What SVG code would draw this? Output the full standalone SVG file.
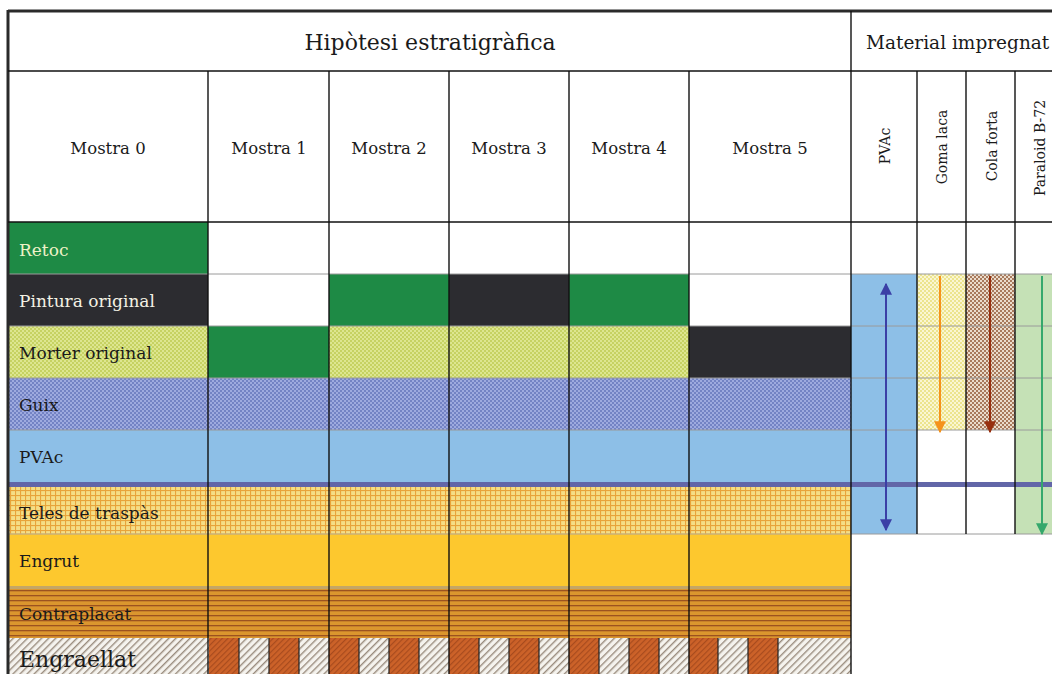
<svg xmlns="http://www.w3.org/2000/svg" width="1052" height="674" viewBox="0 0 1052 674">
<style>
.t{font-family:"DejaVu Serif","Liberation Serif",serif;fill:#1a1a1a}
.lab{font-size:17px}
.hd{font-size:16.5px;text-anchor:middle}
.rot{font-size:14px;text-anchor:middle}
.grid{stroke:#111;stroke-width:1.4}
.thin{stroke:#9a9a9a;stroke-width:1}
.arrow{stroke-width:2;fill:none}
</style>
<defs>
<pattern id="pMorter" width="4" height="4" patternUnits="userSpaceOnUse">
<rect width="4" height="4" fill="#c6d262"/><rect width="2" height="2" fill="#dde690"/><rect x="2" y="2" width="2" height="2" fill="#dde690"/>
</pattern>
<pattern id="pGuix" width="4" height="4" patternUnits="userSpaceOnUse">
<rect width="4" height="4" fill="#7383c4"/><rect width="2" height="2" fill="#9eaadf"/><rect x="2" y="2" width="2" height="2" fill="#9eaadf"/>
</pattern>
<pattern id="pTeles" width="5" height="5" patternUnits="userSpaceOnUse">
<rect width="5" height="5" fill="#f5de86"/><rect width="1.1" height="5" fill="#e8a43a"/><rect width="5" height="1.1" fill="#e8a43a"/>
</pattern>
<pattern id="pContra" width="5" height="5" patternUnits="userSpaceOnUse">
<rect width="5" height="5" fill="#db962e"/><rect width="5" height="1.3" fill="#9c5220"/>
</pattern>
<pattern id="pHatch" width="5" height="5" patternUnits="userSpaceOnUse" patternTransform="rotate(45)">
<rect width="5" height="5" fill="#f5f3ee"/><rect width="1.4" height="5" fill="#9a8c7e"/>
</pattern>
<pattern id="pOrange" width="4" height="4" patternUnits="userSpaceOnUse" patternTransform="rotate(45)">
<rect width="4" height="4" fill="#cc6229"/><rect width="1.2" height="4" fill="#a84b1e"/>
</pattern>
<pattern id="pGoma" width="4" height="4" patternUnits="userSpaceOnUse">
<rect width="4" height="4" fill="#ece48e"/><rect width="2" height="2" fill="#faf6d2"/><rect x="2" y="2" width="2" height="2" fill="#faf6d2"/>
</pattern>
<pattern id="pCola" width="4" height="4" patternUnits="userSpaceOnUse">
<rect width="4" height="4" fill="#a87a5c"/><rect width="2" height="2" fill="#eadccc"/><rect x="2" y="2" width="2" height="2" fill="#eadccc"/>
</pattern>
<marker id="mBlue" viewBox="0 0 10 10" refX="9" refY="5" markerWidth="6" markerHeight="6" orient="auto-start-reverse"><path d="M0,0L10,5L0,10z" fill="#3b3fa6"/></marker>
<marker id="mOrange" viewBox="0 0 10 10" refX="9" refY="5" markerWidth="6" markerHeight="6" orient="auto"><path d="M0,0L10,5L0,10z" fill="#f5931c"/></marker>
<marker id="mBrown" viewBox="0 0 10 10" refX="9" refY="5" markerWidth="6" markerHeight="6" orient="auto"><path d="M0,0L10,5L0,10z" fill="#97300f"/></marker>
<marker id="mGreen" viewBox="0 0 10 10" refX="9" refY="5" markerWidth="6" markerHeight="6" orient="auto"><path d="M0,0L10,5L0,10z" fill="#35a86c"/></marker>
</defs>
<rect width="1052" height="674" fill="#fff"/>

<g id="row-retoc">
<rect x="8" y="222" width="200" height="52" fill="#1e8a45"/>
<text class="t lab" x="19" y="256" style="fill:#eef2c8">Retoc</text>
</g>
<g id="row-pintura">
<rect x="8" y="274" width="200" height="52" fill="#2c2c30"/>
<rect x="329" y="274" width="120" height="52" fill="#1e8a45"/>
<rect x="449" y="274" width="120" height="52" fill="#2c2c30"/>
<rect x="569" y="274" width="120" height="52" fill="#1e8a45"/>
<text class="t lab" x="19" y="307" style="fill:#f4f2e4">Pintura original</text>
</g>
<g id="row-morter">
<rect x="8" y="326" width="200" height="52" fill="url(#pMorter)"/>
<rect x="208" y="326" width="121" height="52" fill="#1e8a45"/>
<rect x="329" y="326" width="360" height="52" fill="url(#pMorter)"/>
<rect x="689" y="326" width="162" height="52" fill="#2c2c30"/>
<text class="t lab" x="19" y="359">Morter original</text>
</g>
<g id="row-guix">
<rect x="8" y="378" width="843" height="52" fill="url(#pGuix)"/>
<text class="t lab" x="19" y="411">Guix</text>
</g>
<g id="row-pvac">
<rect x="8" y="430" width="843" height="52" fill="#8dbfe7"/>
<text class="t lab" x="19" y="463">PVAc</text>
</g>
<g id="row-teles">
<rect x="8" y="487" width="843" height="47" fill="url(#pTeles)"/>
<text class="t lab" x="19" y="519">Teles de traspàs</text>
</g>
<g id="row-engrut">
<rect x="8" y="534" width="843" height="52" fill="#fdc82e"/>
<line x1="8" y1="534" x2="851" y2="534" stroke="#c8b078" stroke-width="1.5"/>
<text class="t lab" x="19" y="567">Engrut</text>
</g>
<g id="row-contraplacat">
<rect x="8" y="586" width="843" height="52" fill="url(#pContra)"/>
<rect x="8" y="586" width="843" height="3" fill="#c4a666"/>
<text class="t lab" x="19" y="620">Contraplacat</text>
</g>
<g id="row-engraellat">
<rect x="8" y="638" width="843" height="36" fill="url(#pHatch)"/>
<rect x="209" y="638" width="30" height="36" fill="url(#pOrange)"/>
<rect x="269" y="638" width="30" height="36" fill="url(#pOrange)"/>
<rect x="329" y="638" width="30" height="36" fill="url(#pOrange)"/>
<rect x="389" y="638" width="30" height="36" fill="url(#pOrange)"/>
<rect x="449" y="638" width="30" height="36" fill="url(#pOrange)"/>
<rect x="509" y="638" width="30" height="36" fill="url(#pOrange)"/>
<rect x="569" y="638" width="30" height="36" fill="url(#pOrange)"/>
<rect x="629" y="638" width="30" height="36" fill="url(#pOrange)"/>
<rect x="689" y="638" width="29" height="36" fill="url(#pOrange)"/>
<rect x="748" y="638" width="30" height="36" fill="url(#pOrange)"/>
<g stroke="#222" stroke-width="1.2">
<line x1="239" y1="638" x2="239" y2="674"/><line x1="269" y1="638" x2="269" y2="674"/><line x1="299" y1="638" x2="299" y2="674"/>
<line x1="359" y1="638" x2="359" y2="674"/><line x1="389" y1="638" x2="389" y2="674"/><line x1="419" y1="638" x2="419" y2="674"/>
<line x1="479" y1="638" x2="479" y2="674"/><line x1="509" y1="638" x2="509" y2="674"/><line x1="539" y1="638" x2="539" y2="674"/>
<line x1="599" y1="638" x2="599" y2="674"/><line x1="629" y1="638" x2="629" y2="674"/><line x1="659" y1="638" x2="659" y2="674"/>
<line x1="718" y1="638" x2="718" y2="674"/><line x1="748" y1="638" x2="748" y2="674"/><line x1="778" y1="638" x2="778" y2="674"/>
</g>
<text class="t" x="19" y="667" font-size="22">Engraellat</text>
</g>

<g id="material-columns">
<rect x="851" y="274" width="66" height="260" fill="#8dbfe7"/>
<rect x="917" y="274" width="49" height="156" fill="url(#pGoma)"/>
<rect x="966" y="274" width="49" height="156" fill="url(#pCola)"/>
<rect x="1015" y="274" width="37" height="260" fill="#c5e1b6"/>
</g>

<g id="row-lines">
<g class="thin">
<line x1="8" y1="274" x2="1052" y2="274"/>
<line x1="8" y1="326" x2="1052" y2="326"/>
<line x1="8" y1="378" x2="1052" y2="378"/>
<line x1="8" y1="430" x2="1052" y2="430"/>
<line x1="851" y1="534" x2="1052" y2="534"/>
</g>
<rect x="8" y="482" width="1044" height="5" fill="#6266a8"/>
</g>

<g id="grid">
<line x1="8" y1="11" x2="1052" y2="11" stroke="#2a2a2a" stroke-width="3"/>
<line x1="8" y1="10" x2="8" y2="674" stroke="#2a2a2a" stroke-width="3"/>
<line x1="8" y1="71" x2="1052" y2="71" class="grid"/>
<line x1="8" y1="222" x2="1052" y2="222" class="grid"/>
<line x1="851" y1="11" x2="851" y2="674" class="grid"/>
<line x1="208" y1="71" x2="208" y2="674" class="grid"/>
<line x1="329" y1="71" x2="329" y2="674" class="grid"/>
<line x1="449" y1="71" x2="449" y2="674" class="grid"/>
<line x1="569" y1="71" x2="569" y2="674" class="grid"/>
<line x1="689" y1="71" x2="689" y2="674" class="grid"/>
<line x1="917" y1="71" x2="917" y2="534" class="grid"/>
<line x1="966" y1="71" x2="966" y2="534" class="grid"/>
<line x1="1015" y1="71" x2="1015" y2="534" class="grid"/>
</g>

<g id="header">
<text class="t" x="430" y="50" font-size="22" text-anchor="middle">Hipòtesi estratigràfica</text>
<text class="t" x="866" y="49" font-size="18.5">Material impregnat</text>
<text class="t hd" x="108" y="154">Mostra 0</text>
<text class="t hd" x="269" y="154">Mostra 1</text>
<text class="t hd" x="389" y="154">Mostra 2</text>
<text class="t hd" x="509" y="154">Mostra 3</text>
<text class="t hd" x="629" y="154">Mostra 4</text>
<text class="t hd" x="770" y="154">Mostra 5</text>
<text class="t rot" transform="translate(890,146) rotate(-90)">PVAc</text>
<text class="t rot" transform="translate(947,147) rotate(-90)">Goma laca</text>
<text class="t rot" transform="translate(997,146) rotate(-90)">Cola forta</text>
<text class="t rot" transform="translate(1045,148) rotate(-90)">Paraloid B-72</text>
</g>

<g id="connectors">
<line class="arrow" x1="886" y1="284" x2="886" y2="530" stroke="#3b3fa6" marker-start="url(#mBlue)" marker-end="url(#mBlue)"/>
<line class="arrow" x1="940" y1="276" x2="940" y2="432" stroke="#f5931c" marker-end="url(#mOrange)"/>
<line class="arrow" x1="990" y1="276" x2="990" y2="432" stroke="#97300f" marker-end="url(#mBrown)"/>
<line class="arrow" x1="1042" y1="276" x2="1042" y2="534" stroke="#35a86c" marker-end="url(#mGreen)"/>
</g>
</svg>
